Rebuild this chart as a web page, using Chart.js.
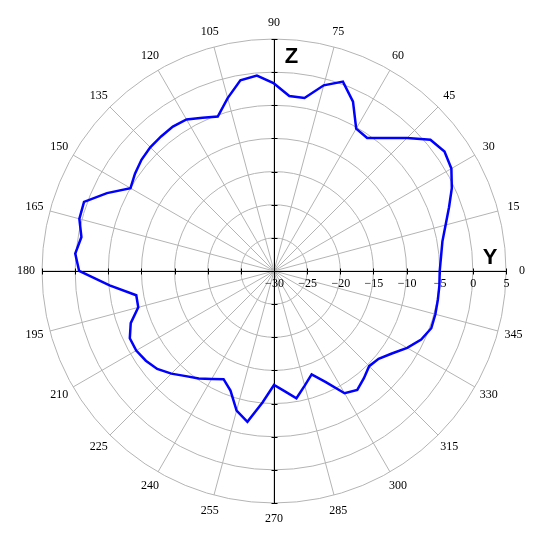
<!DOCTYPE html>
<html>
<head>
<meta charset="utf-8">
<script src="https://cdn.jsdelivr.net/npm/chart.js@4/dist/chart.umd.min.js"></script>
<style>
  html, body { margin: 0; padding: 0; background: #ffffff; }
  #c { display: block; }
</style>
</head>
<body>
<canvas id="c" width="557" height="544"></canvas>
<script>
// ---- data (angle in degrees, counter-clockwise from +Y axis; gain in dB) ----
const angles = [0, 5, 10, 15, 20, 25, 30, 35, 40, 45, 50, 55, 60, 65, 70, 75, 80, 85,
  90, 95, 100, 105, 110, 115, 120, 125, 130, 135, 140, 145, 150, 155, 160, 165, 170, 175,
  180, 185, 190, 195, 200, 205, 210, 215, 220, 225, 230, 235, 240, 245, 250, 255, 260, 265,
  270, 275, 280, 285, 290, 295, 300, 305, 310, 315, 320, 325, 330, 335, 340, 345, 350, 355];
const gain = [-5.0, -4.7, -4.2, -3.2, -1.9, -0.4, 0.9, 1.4, 0.8, -1.6, -3.8, -5.5, -5.2, -1.8, 0.4, -1.0, -3.5, -3.5,
  -1.7, -0.4, -0.8, -3.0, -5.2, -4.5, -3.6, -3.4, -3.5, -3.6, -3.9, -4.4, -5.0, -2.2, 0.5, 0.4, -0.5, 0.1,
  -0.6, -5.1, -8.9, -8.8, -7.0, -6.0, -6.0, -6.4, -7.0, -8.1, -9.3, -10.2, -11.2, -12.0, -10.8, -8.2, -6.9, -10.1,
  -12.8, -11.8, -10.5, -12.1, -13.4, -11.5, -8.7, -8.1, -8.9, -9.7, -9.4, -8.3, -6.8, -5.5, -4.75, -4.8, -4.9, -4.95];
const angleTicks = [0, 15, 30, 45, 60, 75, 90, 105, 120, 135, 150, 165, 180, 195, 210, 225, 240, 255, 270, 285, 300, 315, 330, 345];
const radialTicks = [-30, -25, -20, -15, -10, -5, 0, 5];
const horizontalAxisName = 'Y';
const verticalAxisName = 'Z';

// Radar scale runs clockwise from the top; order the samples from 90° downward
// so each sample lands at its counter-clockwise polar angle.
const radarAngles = [];
const radarGain = [];
for (let i = 0; i < angles.length; i++) {
  const a = ((90 - i * 5) % 360 + 360) % 360;
  const k = angles.indexOf(a);
  radarAngles.push(angles[k]);
  radarGain.push(gain[k]);
}

function fmt(v) { return v < 0 ? '\u2212' + Math.abs(v) : String(v); }

const polarDecor = {
  id: 'polarDecor',
  beforeDatasetsDraw(chart) {
    const s = chart.scales.r;
    const ctx = chart.ctx;
    const cx = s.xCenter, cy = s.yCenter;
    const R = s.getDistanceFromCenterForValue(radialTicks[radialTicks.length - 1]);
    const x0 = Math.round(cx) + 0.5, y0 = Math.round(cy) + 0.5;
    ctx.save();
    ctx.strokeStyle = '#000000';
    ctx.lineWidth = 1;
    ctx.beginPath();
    ctx.moveTo(Math.round(cx - R), y0); ctx.lineTo(Math.round(cx + R) + 1, y0);
    ctx.moveTo(x0, Math.round(cy - R)); ctx.lineTo(x0, Math.round(cy + R) + 1);
    radialTicks.forEach(v => {
      const d = Math.round(s.getDistanceFromCenterForValue(v));
      if (d === 0) return;
      [Math.round(cx) + d, Math.round(cx) - d].forEach(x => { ctx.moveTo(x + 0.5, y0 - 3); ctx.lineTo(x + 0.5, y0 + 3); });
      [Math.round(cy) - d, Math.round(cy) + d].forEach(y => { ctx.moveTo(x0 - 3, y + 0.5); ctx.lineTo(x0 + 3, y + 0.5); });
    });
    ctx.stroke();

    ctx.fillStyle = '#000000';
    ctx.font = '12px "Liberation Serif", "Times New Roman", serif';
    ctx.textAlign = 'center';
    ctx.textBaseline = 'middle';
    radialTicks.forEach(v => {
      const d = s.getDistanceFromCenterForValue(v);
      ctx.fillText(fmt(v), Math.round(cx) + d + 0.5, y0 + 12);
    });
    angleTicks.forEach(a => {
      const idx = radarAngles.indexOf(a);
      const p = s.getPointPosition(idx, R + 16);
      ctx.fillText(String(a), p.x, p.y);
    });

    ctx.font = 'bold 22px "Liberation Sans", Arial, sans-serif';
    ctx.fillText(horizontalAxisName, Math.round(cx) + 216, y0 - 14);
    ctx.fillText(verticalAxisName, x0 + 17, Math.round(cy) - 214);
    ctx.restore();
  }
};

new Chart(document.getElementById('c'), {
  type: 'radar',
  data: {
    labels: radarAngles,
    datasets: [{
      data: radarGain,
      borderColor: '#0000ff',
      borderWidth: 2.5,
      fill: false,
      pointRadius: 0,
      pointHoverRadius: 0,
      tension: 0
    }]
  },
  options: {
    responsive: false,
    animation: false,
    layout: { padding: { left: 42, right: 51, top: 39, bottom: 41 } },
    plugins: { legend: { display: false }, tooltip: { enabled: false }, title: { display: false } },
    scales: {
      r: {
        min: -30,
        max: 5,
        ticks: { display: false, stepSize: 5 },
        grid: { circular: true, color: '#b4b4b4', lineWidth: 1 },
        angleLines: {
          display: true,
          color: '#b4b4b4',
          lineWidth: (c) => (c.index % 3 === 0 ? 1 : 0)
        },
        pointLabels: { display: false }
      }
    }
  },
  plugins: [polarDecor]
});
</script>
</body>
</html>
